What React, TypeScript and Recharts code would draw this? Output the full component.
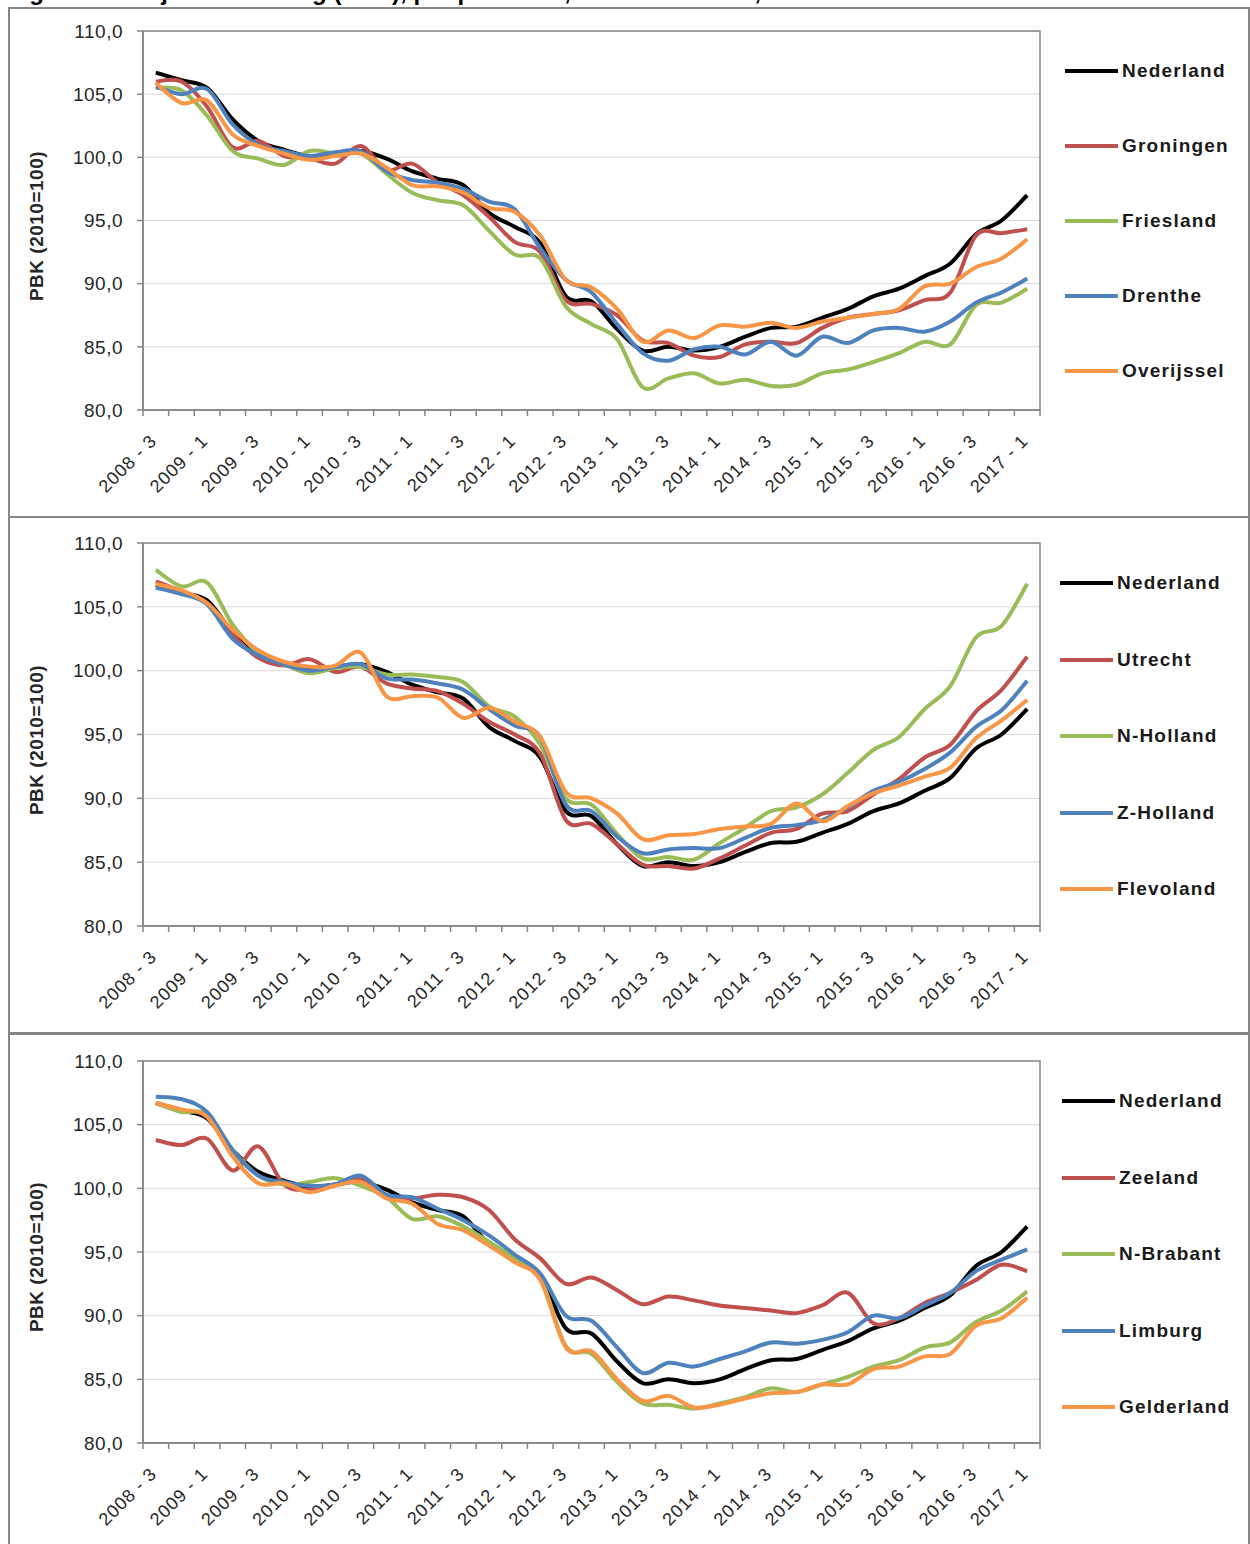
import React from 'react';
import { LineChart, Line, XAxis, YAxis, CartesianGrid, ReferenceArea } from 'recharts';

const quarters = [
  '2008 - 3', '2008 - 4',
  '2009 - 1', '2009 - 2', '2009 - 3', '2009 - 4',
  '2010 - 1', '2010 - 2', '2010 - 3', '2010 - 4',
  '2011 - 1', '2011 - 2', '2011 - 3', '2011 - 4',
  '2012 - 1', '2012 - 2', '2012 - 3', '2012 - 4',
  '2013 - 1', '2013 - 2', '2013 - 3', '2013 - 4',
  '2014 - 1', '2014 - 2', '2014 - 3', '2014 - 4',
  '2015 - 1', '2015 - 2', '2015 - 3', '2015 - 4',
  '2016 - 1', '2016 - 2', '2016 - 3', '2016 - 4',
  '2017 - 1',
];

const yTicks = [80, 85, 90, 95, 100, 105, 110];

const nederland = [106.7, 106.1, 105.5, 103.0, 101.3, 100.6, 100.1, 100.3, 100.5, 99.9, 98.9, 98.3, 97.8, 95.6, 94.5, 93.2, 89.0, 88.6, 86.4, 84.7, 85.0, 84.7, 85.0, 85.8, 86.5, 86.6, 87.3, 88.0, 89.0, 89.6, 90.6, 91.6, 93.9, 95.0, 97.0];

const groningen = [106.0, 106.0, 104.0, 100.8, 101.3, 100.1, 99.9, 99.5, 100.9, 99.0, 99.5, 98.0, 97.0, 95.3, 93.3, 92.5, 88.7, 88.4, 87.5, 85.5, 85.3, 84.3, 84.2, 85.2, 85.4, 85.3, 86.5, 87.3, 87.6, 87.9, 88.7, 89.3, 93.8, 94.0, 94.3];
const friesland = [105.5, 105.3, 103.3, 100.5, 99.9, 99.4, 100.5, 100.3, 100.3, 98.7, 97.2, 96.6, 96.2, 94.2, 92.3, 92.0, 88.2, 86.8, 85.6, 81.8, 82.5, 82.9, 82.1, 82.4, 81.9, 82.0, 82.9, 83.2, 83.8, 84.5, 85.4, 85.2, 88.3, 88.5, 89.6];
const drenthe = [105.6, 105.0, 105.4, 102.6, 101.0, 100.5, 100.1, 100.4, 100.5, 98.9, 98.2, 98.0, 97.5, 96.5, 95.9, 92.8, 90.3, 89.3, 86.8, 84.5, 83.9, 84.8, 85.0, 84.4, 85.4, 84.3, 85.8, 85.3, 86.3, 86.5, 86.2, 87.0, 88.5, 89.3, 90.4];
const overijssel = [105.9, 104.3, 104.5, 101.8, 100.9, 100.3, 99.8, 100.1, 100.3, 99.2, 97.8, 97.7, 97.2, 96.0, 95.7, 93.8, 90.3, 89.7, 88.0, 85.4, 86.3, 85.7, 86.7, 86.6, 86.9, 86.5, 87.0, 87.3, 87.6, 88.0, 89.8, 90.0, 91.3, 92.0, 93.5];

const utrecht = [107.0, 106.2, 105.3, 102.8, 101.0, 100.4, 100.9, 99.9, 100.3, 99.0, 98.6, 98.4, 97.4, 96.0, 95.0, 93.5, 88.3, 88.0, 86.4, 84.8, 84.7, 84.5, 85.3, 86.3, 87.3, 87.6, 88.8, 89.0, 90.3, 91.5, 93.2, 94.2, 96.8, 98.5, 101.1];
const nHolland = [107.9, 106.6, 106.9, 103.6, 101.4, 100.5, 99.8, 100.2, 100.3, 99.7, 99.7, 99.5, 99.1, 97.2, 96.4, 94.2, 90.0, 89.5, 87.2, 85.3, 85.4, 85.2, 86.5, 87.7, 89.0, 89.3, 90.3, 92.0, 93.8, 94.8, 97.0, 98.8, 102.6, 103.5, 106.8];
const zHolland = [106.5, 106.0, 105.2, 102.5, 101.2, 100.5, 100.0, 100.3, 100.5, 99.4, 99.3, 99.0, 98.5, 97.0, 95.7, 94.8, 89.5, 89.0, 87.0, 85.7, 86.0, 86.1, 86.1, 86.9, 87.7, 87.9, 88.3, 89.3, 90.6, 91.3, 92.3, 93.6, 95.6, 96.9, 99.2];
const flevoland = [106.8, 106.3, 105.3, 103.2, 101.6, 100.7, 100.3, 100.4, 101.4, 98.0, 98.0, 97.9, 96.3, 97.1, 96.0, 94.8, 90.5, 90.0, 88.8, 86.8, 87.1, 87.2, 87.6, 87.8, 88.0, 89.6, 88.2, 89.4, 90.4, 91.0, 91.7, 92.4, 94.7, 96.1, 97.7];

const zeeland = [103.8, 103.4, 103.9, 101.4, 103.3, 100.3, 99.9, 100.3, 100.7, 99.3, 99.2, 99.5, 99.3, 98.3, 96.0, 94.5, 92.5, 93.0, 92.0, 90.9, 91.5, 91.2, 90.8, 90.6, 90.4, 90.2, 90.8, 91.8, 89.4, 89.8, 91.0, 91.8, 92.8, 94.0, 93.5];
const nBrabant = [106.7, 106.0, 105.8, 103.0, 101.0, 100.3, 100.5, 100.8, 100.2, 99.3, 97.6, 97.8, 97.0, 95.8, 94.5, 93.0, 87.6, 87.0, 84.8, 83.1, 83.0, 82.7, 83.1, 83.6, 84.3, 84.0, 84.6, 85.2, 86.0, 86.5, 87.5, 87.9, 89.5, 90.4, 91.9];
const limburg = [107.2, 107.0, 106.0, 103.0, 101.0, 100.5, 100.2, 100.3, 101.0, 99.5, 99.3, 98.4, 97.5, 96.3, 94.8, 93.3, 90.0, 89.6, 87.5, 85.5, 86.3, 86.0, 86.6, 87.2, 87.9, 87.8, 88.1, 88.7, 90.0, 89.8, 90.8, 91.8, 93.5, 94.4, 95.2];
const gelderland = [106.7, 106.2, 105.6, 102.5, 100.4, 100.4, 99.7, 100.2, 100.5, 99.2, 98.8, 97.2, 96.7, 95.5, 94.2, 92.8, 87.5, 87.2, 85.0, 83.3, 83.7, 82.8, 83.0, 83.5, 83.9, 84.0, 84.6, 84.6, 85.8, 86.0, 86.8, 87.0, 89.2, 89.8, 91.4];

const FONT = '"Liberation Sans", Arial, Helvetica, sans-serif';
const AXIS = '#868686';
const TEXT = '#262626';

const C_BLACK = '#000000';
const C_RED = '#C0504D';
const C_GREEN = '#9BBB59';
const C_BLUE = '#4F81BD';
const C_ORANGE = '#F79646';

// Excel-like smoothed line (Catmull-Rom style Bezier)
function excelCurve(context: any) {
  let pts: number[][] = [];
  return {
    areaStart() {},
    areaEnd() {},
    lineStart() {
      pts = [];
    },
    point(x: number, y: number) {
      pts.push([+x, +y]);
    },
    lineEnd() {
      if (!pts.length) return;
      context.moveTo(pts[0][0], pts[0][1]);
      const t = 1 / 6;
      for (let i = 0; i < pts.length - 1; i++) {
        const p0 = pts[i - 1] || pts[i];
        const p1 = pts[i];
        const p2 = pts[i + 1];
        const p3 = pts[i + 2] || p2;
        context.bezierCurveTo(
          p1[0] + (p2[0] - p0[0]) * t,
          p1[1] + (p2[1] - p0[1]) * t,
          p2[0] - (p3[0] - p1[0]) * t,
          p2[1] - (p3[1] - p1[1]) * t,
          p2[0],
          p2[1]
        );
      }
    },
  };
}

const boundaryTicks = quarters.map((_, i) => i - 0.5).concat([quarters.length - 0.5]);

const XTick = (props: any) => {
  const { x, y, payload, width } = props;
  const idx = Math.round(payload.value + 0.5);
  if (idx % 2 !== 0 || idx >= quarters.length) return <g />;
  const band = (width || 897) / quarters.length;
  const ax = x + band / 2 + 2;
  const ay = y + 24;
  return (
    <text
      x={ax}
      y={ay}
      transform={`rotate(-45, ${ax}, ${ay})`}
      textAnchor="end"
      fontSize={18}
      letterSpacing={0.9}
      fontFamily={FONT}
      fill={TEXT}
    >
      {quarters[idx]}
    </text>
  );
};

type Series = { name: string; color: string; values: number[] };
type Panel = {
  top: number;
  height: number;
  plotTop: number;
  plotBottom: number;
  legendLeft: number;
  legendTop: number;
  legendStep: number;
  series: Series[];
};

const panels: Panel[] = [
  {
    top: 7, height: 511, plotTop: 24, plotBottom: 403,
    legendLeft: 1065, legendTop: 64, legendStep: 75,
    series: [
      { name: 'Nederland', color: C_BLACK, values: nederland },
      { name: 'Groningen', color: C_RED, values: groningen },
      { name: 'Friesland', color: C_GREEN, values: friesland },
      { name: 'Drenthe', color: C_BLUE, values: drenthe },
      { name: 'Overijssel', color: C_ORANGE, values: overijssel },
    ],
  },
  {
    top: 516, height: 518, plotTop: 27, plotBottom: 410,
    legendLeft: 1060, legendTop: 67, legendStep: 76.5,
    series: [
      { name: 'Nederland', color: C_BLACK, values: nederland },
      { name: 'Utrecht', color: C_RED, values: utrecht },
      { name: 'N-Holland', color: C_GREEN, values: nHolland },
      { name: 'Z-Holland', color: C_BLUE, values: zHolland },
      { name: 'Flevoland', color: C_ORANGE, values: flevoland },
    ],
  },
  {
    top: 1033, height: 520, plotTop: 28, plotBottom: 410,
    legendLeft: 1062, legendTop: 68, legendStep: 76.5,
    series: [
      { name: 'Nederland', color: C_BLACK, values: nederland },
      { name: 'Zeeland', color: C_RED, values: zeeland },
      { name: 'N-Brabant', color: C_GREEN, values: nBrabant },
      { name: 'Limburg', color: C_BLUE, values: limburg },
      { name: 'Gelderland', color: C_ORANGE, values: gelderland },
    ],
  },
];

const fmt = (v: number) => v.toFixed(1).replace('.', ',');

function ChartPanel({ panel }: { panel: Panel }) {
  const data = quarters.map((q, i) => {
    const row: any = { x: i, label: q };
    panel.series.forEach((s) => {
      row[s.name] = s.values[i];
    });
    return row;
  });
  const plotCenter = (panel.plotTop + panel.plotBottom) / 2;
  return (
    <div style={{ position: 'absolute', left: 0, top: panel.top, width: 1250, height: panel.height }}>
      <div
        style={{
          position: 'absolute', left: 8, top: 0, width: 1242, height: panel.height,
          border: `2px solid ${AXIS}`, boxSizing: 'border-box', background: '#fff',
        }}
      />
      <div style={{ position: 'absolute', left: 0, top: 0 }}>
        <LineChart
          width={1250}
          height={panel.height}
          data={data}
          margin={{ top: panel.plotTop, right: 210, bottom: 0, left: 0 }}
        >
          <CartesianGrid vertical={false} stroke="#d9d9d9" strokeWidth={1} />
          <XAxis
            dataKey="x"
            type="number"
            domain={[-0.5, quarters.length - 0.5]}
            ticks={boundaryTicks}
            interval={0}
            allowDataOverflow
            height={panel.height - panel.plotBottom}
            axisLine={{ stroke: AXIS, strokeWidth: 1.5 }}
            tickLine={{ stroke: AXIS, strokeWidth: 1.5 }}
            tickSize={6}
            tick={<XTick />}
          />
          <YAxis
            domain={[80, 110]}
            ticks={yTicks}
            interval={0}
            width={143}
            tickFormatter={fmt}
            axisLine={{ stroke: AXIS, strokeWidth: 1.5 }}
            tickLine={{ stroke: AXIS, strokeWidth: 1.5 }}
            tickSize={6}
            tickMargin={14}
            tick={{ fontSize: 19, fontFamily: FONT, fill: TEXT, letterSpacing: 0.5 }}
          />
          <ReferenceArea
            x1={-0.5}
            x2={quarters.length - 0.5}
            y1={80}
            y2={110}
            fill="none"
            stroke={AXIS}
            strokeWidth={1.5}
            ifOverflow="visible"
          />
          {panel.series.map((s) => (
            <Line
              key={s.name}
              dataKey={s.name}
              stroke={s.color}
              strokeWidth={4}
              dot={false}
              activeDot={false}
              type={excelCurve as any}
              isAnimationActive={false}
            />
          ))}
        </LineChart>
      </div>
      <div
        style={{
          position: 'absolute', left: 37 - 150, top: plotCenter + 5 - 12, width: 300, height: 24,
          lineHeight: '24px', textAlign: 'center', transform: 'rotate(-90deg)',
          fontFamily: FONT, fontWeight: 'bold', fontSize: 19, color: TEXT, letterSpacing: 0.5,
        }}
      >
        PBK (2010=100)
      </div>
      {panel.series.map((s, k) => {
        const cy = panel.legendTop + k * panel.legendStep;
        return (
          <div key={s.name}>
            <div
              style={{
                position: 'absolute', left: panel.legendLeft, top: cy - 2, width: 53, height: 4,
                background: s.color,
              }}
            />
            <div
              style={{
                position: 'absolute', left: panel.legendLeft + 57, top: cy - 13, height: 26,
                lineHeight: '26px', fontFamily: FONT, fontWeight: 'bold', fontSize: 19,
                color: '#1a1a1a', letterSpacing: 1.2, whiteSpace: 'nowrap',
              }}
            >
              {s.name}
            </div>
          </div>
        );
      })}
    </div>
  );
}

export default function App() {
  return (
    <div
      style={{
        position: 'absolute', left: 0, top: 0, width: 1250, height: 1544, overflow: 'hidden',
        background: '#fff', fontFamily: FONT,
      }}
    >
      <div
        style={{
          position: 'absolute', left: 8, top: -20, whiteSpace: 'nowrap', fontWeight: 'bold',
          fontSize: 24, lineHeight: '24px', color: '#000',
        }}
      >
        Figuur 3.2 Prijsontwikkeling (PBK), per provincie, index 2010=100, 2008 - 2017
      </div>
      {panels.map((p, i) => (
        <ChartPanel key={i} panel={p} />
      ))}
    </div>
  );
}
